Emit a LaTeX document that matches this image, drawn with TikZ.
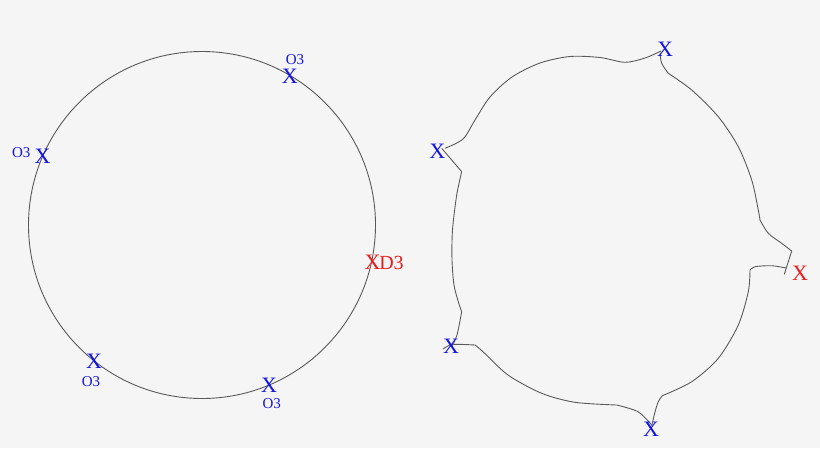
\documentclass[tikz,border=0pt]{standalone}
\usepackage{fontspec}
\setmainfont{Liberation Serif}
\definecolor{bg}{HTML}{F5F5F5}
\definecolor{xblue}{RGB}{20,20,225}
\definecolor{xred}{RGB}{235,30,30}
\definecolor{curve}{HTML}{5A5A5A}
\tikzset{
  mk/.style={inner sep=0pt, text=xblue, font=\fontsize{22}{22}\selectfont},
  mkred/.style={mk, text=xred},
  lbl/.style={inner sep=0pt, text=xblue, font=\fontsize{15}{15}\selectfont},
  lblred/.style={inner sep=0pt, text=xred, font=\fontsize{20}{20}\selectfont},
  ln/.style={draw=curve, line width=0.9pt},
  sm/.style={ln, smooth, tension=0.5}
}
\begin{document}
\begin{tikzpicture}[x=1pt,y=-1pt]
\fill[bg] (0,0) rectangle (820,448);
\useasboundingbox (0,0) rectangle (820,448);
% left circle
\coordinate (c) at (202,225);
\draw[ln] (c) circle[radius=173.5];
% markers on left circle
\node[mk] (a1) at (42.5,156) {X};
\node[lbl] (l1) at (21.3,152.5) {O3};
\node[mk] (a2) at (289.7,76.5) {X};
\node[lbl] (l2) at (295,59.5) {O3};
\node[mkred] (a3) at (372.5,262) {X};
\node[lblred] (l3) at (391.5,263) {D3};
\node[mk] (a4) at (94,361) {X};
\node[lbl] (l4) at (91,382) {O3};
\node[mk] (a5) at (269,385) {X};
\node[lbl] (l5) at (271.7,404) {O3};
% right deformed shape
\draw[sm] plot coordinates {(661,51) (645,58) (625,62.3) (600,57.5) (570,56.5) (540,63) (512,77) (490,97) (475,120) (463,139) (445,148.3)};
\draw[ln] (441.7,148.3) -- (461.7,171.7);
\draw[sm] plot coordinates {(461.7,171.7) (456.7,195) (452.5,230) (452,260) (454,285) (458.3,301.7) (461.7,311.7)};
\draw[sm] plot coordinates {(461.7,311.7) (457,335) (452,346)};
\draw[sm] plot coordinates {(443,349) (450,345) (458.3,344.3) (475,345)};
\draw[sm] plot coordinates {(475,345) (483,351.7) (508,375) (541.7,393.3) (575,402.3) (616.7,405)};
\draw[sm] plot coordinates {(616.7,405) (638,411.7) (651.7,425)};
\draw[sm] plot coordinates {(651.7,426) (655,412) (658.3,401.7) (662.3,395.7)};
\draw[sm] plot coordinates {(662.3,395.7) (691.7,381.7) (718.3,358.3) (738.3,325) (748.3,291.7) (750,270)};
\draw[sm] plot coordinates {(750,270) (755,266.7) (771.7,265.7) (786,268)};
\draw[sm] plot coordinates {(660,53) (661.7,63.3) (668.3,73.3)};
\draw[sm] plot coordinates {(668.3,73.3) (691.7,90) (718.3,116.7) (738.3,146.7) (751.7,180) (758.3,210) (760,220)};
\draw[sm] plot coordinates {(760,220) (768.3,233.3) (781.7,243.3) (791.7,251)};
\draw[ln] (791.7,251) -- (784.3,274.3);
% markers on right shape
\node[mk] (b1) at (665,49.3) {X};
\node[mk] (b2) at (437.3,151.7) {X};
\node[mkred] (b3) at (800,273) {X};
\node[mk] (b4) at (451,346.7) {X};
\node[mk] (b5) at (651,429.7) {X};
\end{tikzpicture}
\end{document}
